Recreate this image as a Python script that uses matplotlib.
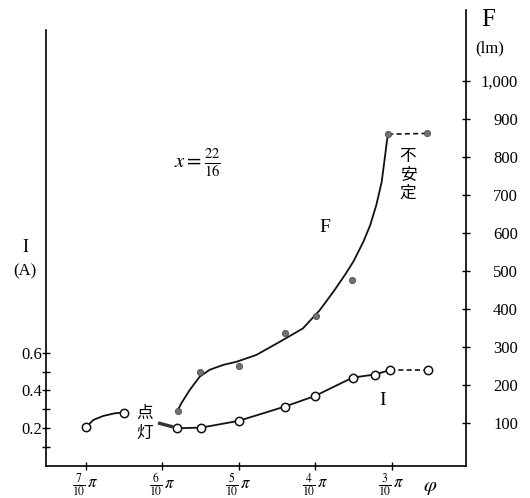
import matplotlib
matplotlib.use("Agg")
import matplotlib.pyplot as plt

plt.rcParams["font.family"] = ["Liberation Serif", "DejaVu Serif"]
plt.rcParams["mathtext.fontset"] = "stix"
CJK = ["Noto Sans CJK JP", "DejaVu Sans"]

# phase angle phi in units of pi/10 (axis runs from 7/10 pi down to 3/10 pi)
phi_ticks = [7, 6, 5, 4, 3]
phi_ticklabels = [r"$\frac{%d}{10}\,\pi$" % n for n in phi_ticks]

I_major = [0.2, 0.4, 0.6]
I_minor = [0.1, 0.3, 0.5]
F_ticks = [100, 200, 300, 400, 500, 600, 700, 800, 900, 1000]
F_ticklabels = ["100", "200", "300", "400", "500", "600", "700", "800", "900", "1,000"]

# current I (A) before ignition ("点灯")
I_pre_phi = [7.0, 6.5]
I_pre_val = [0.205, 0.283]
I_pre_curve_phi = [7.0, 6.90, 6.77, 6.62, 6.5]
I_pre_curve_val = [0.205, 0.244, 0.265, 0.279, 0.283]

# current I (A) after ignition
I_phi = [5.81, 5.49, 5.0, 4.40, 4.0, 3.51, 3.22, 3.02]
I_val = [0.200, 0.203, 0.239, 0.314, 0.371, 0.468, 0.484, 0.508]
I_unstable_phi = [3.02, 2.52]
I_unstable_val = [0.508, 0.508]

# luminous flux F (lm)
F_phi = [5.80, 5.50, 5.0, 4.40, 3.99, 3.52, 3.045]
F_val = [132, 234, 250, 336, 382, 476, 860]
F_curve_phi = [5.80, 5.75, 5.64, 5.51, 5.38, 5.20, 5.03, 4.77, 4.46, 4.16,
               3.94, 3.76, 3.61, 3.50, 3.37, 3.28, 3.20, 3.13, 3.09, 3.06, 3.045]
F_curve_val = [132, 152, 187, 222, 240, 253, 261, 279, 314, 349,
               397, 446, 490, 525, 577, 621, 674, 735, 797, 845, 860]
F_unstable_phi = [3.045, 2.54]
F_unstable_val = [860, 862]

W, H = 530, 498


def fpos(x, y):
    return x / W, 1 - y / H


fig = plt.figure(figsize=(W / 100, H / 100), dpi=100)
ax = fig.add_axes([46 / W, 32 / H, 420 / W, 456 / H])
ax2 = ax.twinx()

ax.set_xlim(7.52, 2.028)
ax.set_ylim(0, 2.413)
ax2.set_ylim(-13.2, 1186.8)

# spines
for s in ["top", "right"]:
    ax.spines[s].set_visible(False)
for s in ["top", "left", "bottom"]:
    ax2.spines[s].set_visible(False)
ax.spines["left"].set_bounds(0, 2.307)
for sp in [ax.spines["left"], ax.spines["bottom"], ax2.spines["right"]]:
    sp.set_linewidth(1.2)

# ticks
ax.set_xticks(phi_ticks)
ax.set_xticklabels(phi_ticklabels)
ax.tick_params(axis="x", direction="inout", length=6, width=1, labelsize=12, pad=1)
ax.set_yticks(I_major)
ax.set_yticks(I_minor, minor=True)
ax.set_yticklabels(["%.1f" % v for v in I_major])
ax.tick_params(axis="y", which="both", direction="inout", length=6, width=1,
               labelsize=12, pad=0)
ax2.set_yticks(F_ticks)
ax2.set_yticklabels(F_ticklabels)
ax2.tick_params(axis="y", direction="inout", length=6, width=1, labelsize=12, pad=34.4)
for lab in ax2.get_yticklabels():
    lab.set_horizontalalignment("right")

lc = "#111111"
# I curves
ax.plot(I_pre_curve_phi, I_pre_curve_val, color=lc, lw=1.3)
ax.plot(I_phi, I_val, color=lc, lw=1.3)
ax.plot(I_unstable_phi, I_unstable_val, color=lc, lw=1.2, ls=(0, (3, 2)))
ax.plot(I_pre_phi + I_phi + I_unstable_phi[1:], I_pre_val + I_val + I_unstable_val[1:],
        ls="none", marker="o", ms=6, mfc="white", mec=lc, mew=1.1, zorder=5)
# small stroke next to the 点灯 mark
ax.plot([6.056, 5.86], [0.228, 0.207], color="#333333", lw=2.4, solid_capstyle="butt")

# F curves
ax2.plot(F_curve_phi, F_curve_val, color=lc, lw=1.3, solid_joinstyle="round")
ax2.plot(F_unstable_phi, F_unstable_val, color=lc, lw=1.2, ls=(0, (3, 2)))
ax2.plot(F_phi + F_unstable_phi[1:], F_val + F_unstable_val[1:], ls="none", marker="o",
         ms=4.5, mfc="#707070", mec="#505050", mew=0.6, zorder=5)

# labels and annotations
fig.text(*fpos(488, 20), "F", fontsize=18, ha="center", va="center")
fig.text(*fpos(490, 48), "(lm)", fontsize=12, ha="center", va="center")
fig.text(*fpos(25, 247), "I", fontsize=13, ha="center", va="center")
fig.text(*fpos(25, 271), "(A)", fontsize=12, ha="center", va="center")
fig.text(*fpos(197, 163), r"$x=\frac{22}{16}$", fontsize=15, ha="center", va="center")
fig.text(*fpos(325, 228), "F", fontsize=14, ha="center", va="center")
fig.text(*fpos(383, 400), "I", fontsize=14, ha="center", va="center")
fig.text(*fpos(430, 487), r"$\varphi$", fontsize=15, ha="center", va="center")
for ch, y in zip("不安定", [157, 175, 193]):
    fig.text(*fpos(408, y), ch, fontsize=12, family=CJK, ha="center", va="center")
for ch, y in zip("点灯", [413, 433]):
    fig.text(*fpos(145, y), ch, fontsize=12, family=CJK, ha="center", va="center")

fig.savefig("out.png", dpi=100)
